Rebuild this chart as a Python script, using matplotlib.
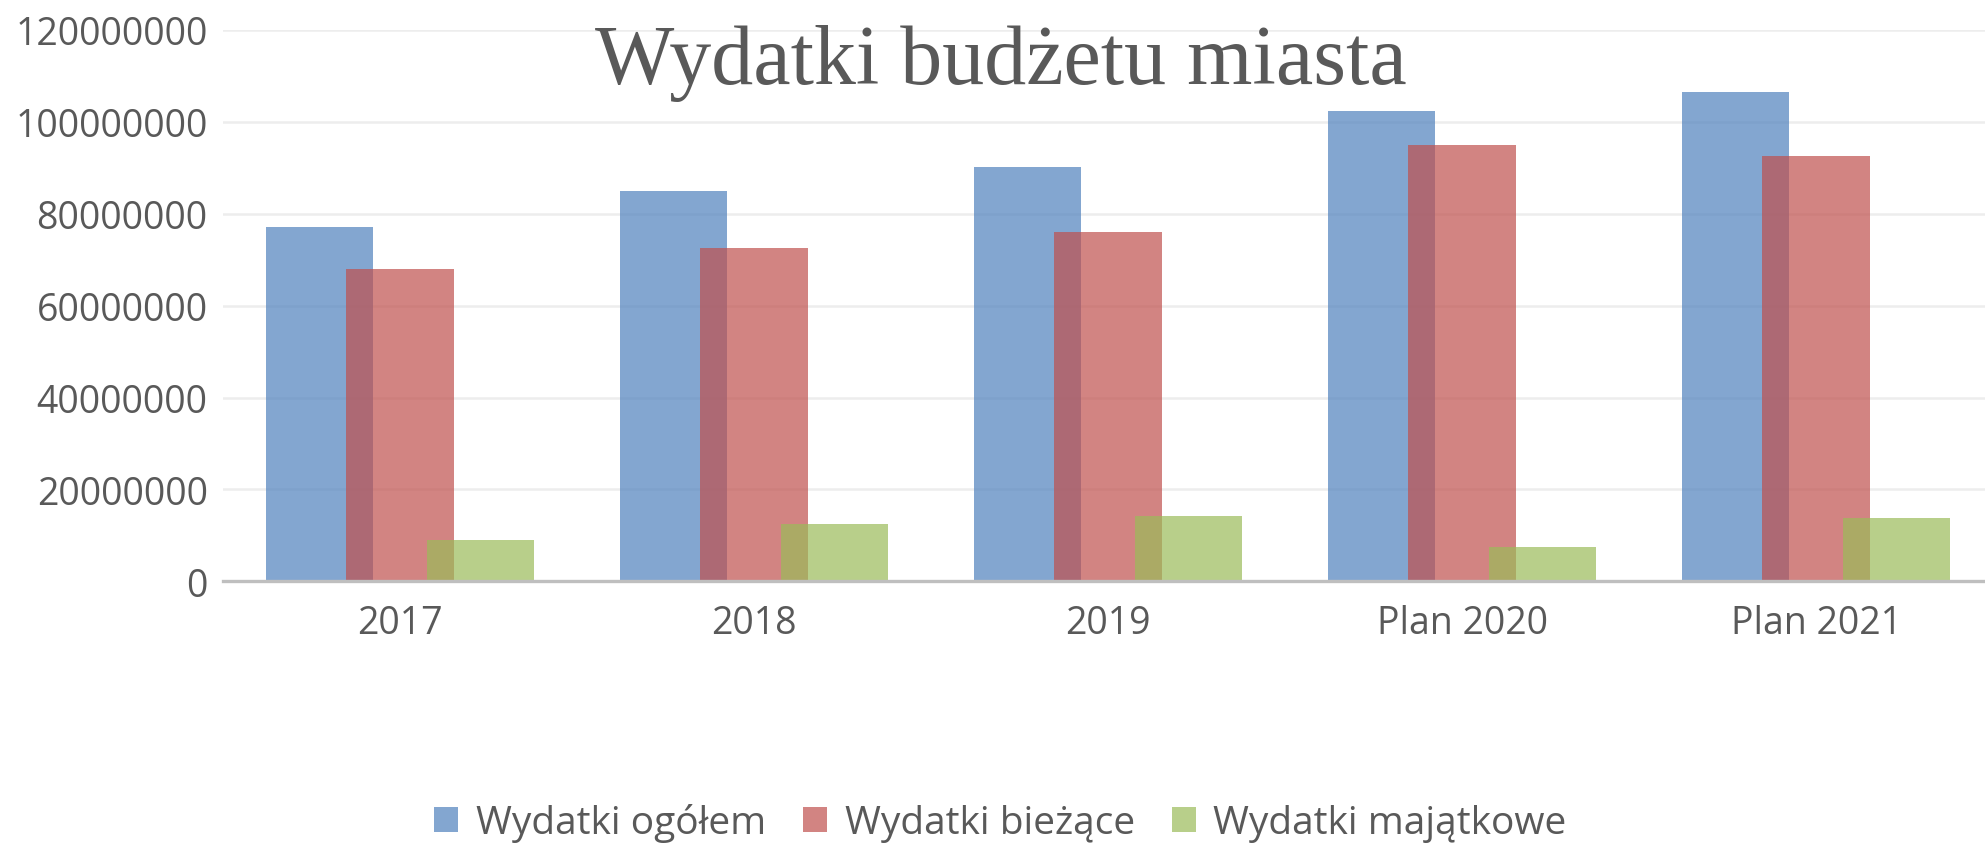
import numpy as np
import matplotlib
matplotlib.use('Agg')
import matplotlib.pyplot as plt

# dane z wykresu
kategorie = ['2017', '2018', '2019', 'Plan 2020', 'Plan 2021']
serie = ['Wydatki ogółem', 'Wydatki bieżące', 'Wydatki majątkowe']
ogolem = [77100000, 84900000, 90100000, 102400000, 106400000]
biezace = [68000000, 72600000, 75900000, 94900000, 92600000]
majatkowe = [9000000, 12400000, 14300000, 7400000, 13700000]
kolory = ['#4F81BD', '#C0504D', '#9BBB59']
y_ticks = [0, 20000000, 40000000, 60000000, 80000000, 100000000, 120000000]

plt.rcParams['font.family'] = ['Open Sans', 'DejaVu Sans']

fig = plt.figure(figsize=(19.85, 8.45), dpi=100)
ax = fig.add_axes([0.1123, 0.3108, 1.0 - 0.1123, 0.9636 - 0.3108])

x = np.arange(len(kategorie))
szer = 0.303
przes = 0.227
for i, (wart, nazwa) in enumerate(zip([ogolem, biezace, majatkowe], serie)):
    ax.bar(x + (i - 1) * przes, wart, width=szer, color=kolory[i],
           alpha=0.7, label=nazwa, zorder=3, linewidth=0)

ax.set_xlim(-0.5, 4.477)
ax.set_ylim(0, 120000000)
ax.set_yticks(y_ticks)
ax.set_yticklabels([str(v) for v in y_ticks])
ax.set_xticks(x)
ax.set_xticklabels(kategorie)
ax.tick_params(axis='both', length=0, labelsize=27, labelcolor='#595959')
ax.tick_params(axis='y', pad=11)
ax.tick_params(axis='x', pad=16)

ax.grid(axis='y', color='#EDEDED', linewidth=1.8, zorder=0)
for s in ['top', 'right', 'left']:
    ax.spines[s].set_visible(False)
ax.spines['bottom'].set_color('#BFBFBF')
ax.spines['bottom'].set_linewidth(2.4)
ax.spines['bottom'].set_zorder(4)

fig.text(0.504, 0.9, 'Wydatki budżetu miasta', ha='center', va='baseline',
         fontsize=60.5, color='#595959', family=['Liberation Serif', 'DejaVu Serif'])

fig.legend(loc='center', bbox_to_anchor=(0.504, 0.025), ncol=3, frameon=False,
           fontsize=28, labelcolor='#595959', handlelength=0.62, handleheight=0.62,
           handletextpad=0.45, columnspacing=0.95, borderaxespad=0)

fig.savefig('out.png', dpi=100)
